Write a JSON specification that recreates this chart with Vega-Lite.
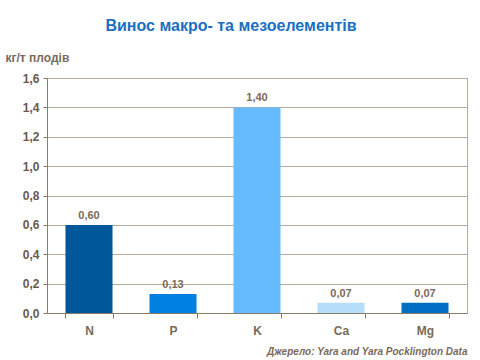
{
  "$schema": "https://vega.github.io/schema/vega-lite/v6.json",
  "autosize": "none",
  "width": 420,
  "height": 235,
  "padding": {"left": 47, "top": 78, "right": 13, "bottom": 47},
  "background": "white",
  "config": {
    "locale": {"number": {"decimal": ",", "thousands": " ", "grouping": [3], "currency": ["", ""]}},
    "view": {"stroke": "#b5aa9c", "strokeWidth": 1},
    "font": "Liberation Sans"
  },
  "title": {
    "text": "Винос макро- та мезоелементів",
    "color": "#1a6fc4",
    "fontSize": 16,
    "fontWeight": "bold",
    "font": "Liberation Sans",
    "anchor": "middle",
    "dx": -26,
    "offset": 17
  },
  "data": {
    "values": [
      {"element": "N", "value": 0.60},
      {"element": "P", "value": 0.13},
      {"element": "K", "value": 1.40},
      {"element": "Ca", "value": 0.07},
      {"element": "Mg", "value": 0.07}
    ]
  },
  "encoding": {
    "x": {
      "field": "element",
      "type": "nominal",
      "sort": null,
      "scale": {"paddingInner": 0.44, "paddingOuter": 0.22},
      "axis": {
        "title": "Джерело: Yara and Yara Pocklington Data",
        "titleFont": "Liberation Sans",
        "titleFontStyle": "italic",
        "titleFontWeight": "bold",
        "titleFontSize": 10,
        "titleColor": "#7a6a5a",
        "titleAnchor": "end",
        "titleAlign": "right",
        "titleX": 420,
        "titleY": 38,
        "titleBaseline": "middle",
        "labelAngle": 0,
        "labelFontSize": 12,
        "labelFontWeight": "bold",
        "labelColor": "#7a6a5a",
        "labelPadding": 7,
        "tickBand": "extent",
        "tickColor": "#8a7a6a",
        "tickSize": 5,
        "domainColor": "#8a7a6a"
      }
    },
    "y": {
      "field": "value",
      "type": "quantitative",
      "scale": {"domain": [0, 1.6]},
      "axis": {
        "values": [0, 0.2, 0.4, 0.6, 0.8, 1.0, 1.2, 1.4, 1.6],
        "format": ".1f",
        "title": "кг/т плодів",
        "titleAngle": 0,
        "titleAlign": "left",
        "titleBaseline": "middle",
        "titleX": -42,
        "titleY": -21,
        "titleFontSize": 12,
        "titleFontWeight": "bold",
        "titleColor": "#7a6a5a",
        "labelFontSize": 12,
        "labelFontWeight": "bold",
        "labelColor": "#6a5a4a",
        "labelPadding": 4,
        "gridColor": "#b5aa9c",
        "domainColor": "#8a7a6a",
        "tickColor": "#8a7a6a",
        "tickSize": 4
      }
    }
  },
  "layer": [
    {
      "mark": {"type": "bar"},
      "encoding": {
        "color": {
          "field": "element",
          "type": "nominal",
          "scale": {
            "domain": ["N", "P", "K", "Ca", "Mg"],
            "range": ["#00579a", "#0080e0", "#66bbff", "#b4defa", "#006fc4"]
          },
          "legend": null
        }
      }
    },
    {
      "mark": {"type": "text", "dy": -9, "fontSize": 11, "fontWeight": "bold", "color": "#7a6a5a"},
      "encoding": {
        "text": {"field": "value", "type": "quantitative", "format": ".2f"}
      }
    }
  ]
}
